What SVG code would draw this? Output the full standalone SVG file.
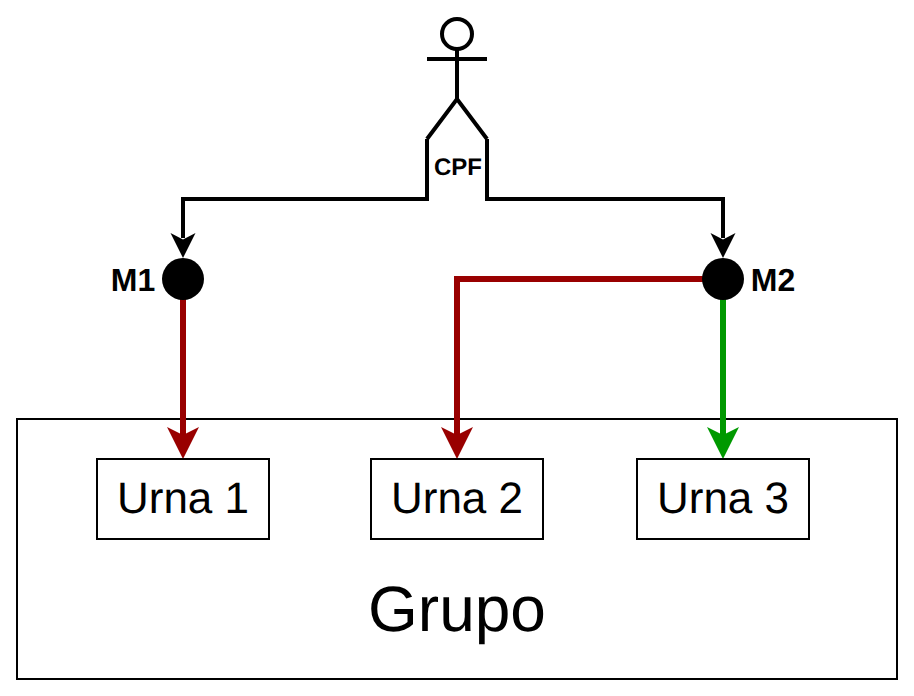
<svg xmlns="http://www.w3.org/2000/svg" width="914" height="696" viewBox="0 0 914 696">
<style>
text{font-family:"Liberation Sans",Arial,sans-serif;fill:#000;text-anchor:middle;text-rendering:geometricPrecision}
.box{fill:#fff;stroke:#000;stroke-width:2}
.urna{font-size:44px}
.lbl{font-size:32px;font-weight:700}
.c{fill:none;stroke-miterlimit:10}
.k{stroke:#000;stroke-width:4}
.r{stroke:#990000;stroke-width:6}
.g{stroke:#009900;stroke-width:6}
.st{fill:none;stroke:#000;stroke-width:4}
</style>
<defs>
<path id="hk" d="M0 0L-12.500 -25L0 -18.500L12.500 -25Z" fill="#000"/>
<path id="hl" d="M0 0L-16 -32L0 -24L16 -32Z"/>
</defs>
<rect id="grupo-box" class="box" x="17" y="419" width="880" height="260"/>
<g id="connectors">
<path class="c k" d="M427 139V199H183V238"/>
<path class="c k" d="M487 139V199H723V238"/>
<use href="#hk" x="183" y="258"/>
<use href="#hk" x="723" y="258"/>
<path class="c r" d="M183 279V436"/>
<use href="#hl" x="183" y="459" fill="#990000"/>
<path class="c r" d="M723 279H457V436"/>
<use href="#hl" x="457" y="459" fill="#990000"/>
<path class="c g" d="M723 279V436"/>
<use href="#hl" x="723" y="459" fill="#009900"/>
</g>
<g id="actor">
<circle class="st" cx="457" cy="34" r="15"/>
<path class="st" d="M457 49V99M427 59H487M427 139L457 99L487 139"/>
<text x="458" y="175" font-size="24" font-weight="700">CPF</text>
</g>
<g id="m1">
<circle cx="183" cy="279" r="21"/>
<text class="lbl" x="133" y="291">M1</text>
</g>
<g id="m2">
<circle cx="723" cy="279" r="21"/>
<text class="lbl" x="773" y="291">M2</text>
</g>
<g id="urna1">
<rect class="box" x="97" y="459" width="172" height="80"/>
<text class="urna" x="183" y="513">Urna 1</text>
</g>
<g id="urna2">
<rect class="box" x="371" y="459" width="172" height="80"/>
<text class="urna" x="457" y="513">Urna 2</text>
</g>
<g id="urna3">
<rect class="box" x="637" y="459" width="172" height="80"/>
<text class="urna" x="723" y="513">Urna 3</text>
</g>
<g id="grupo">
<text x="457" y="631" font-size="64">Grupo</text>
</g>
</svg>
